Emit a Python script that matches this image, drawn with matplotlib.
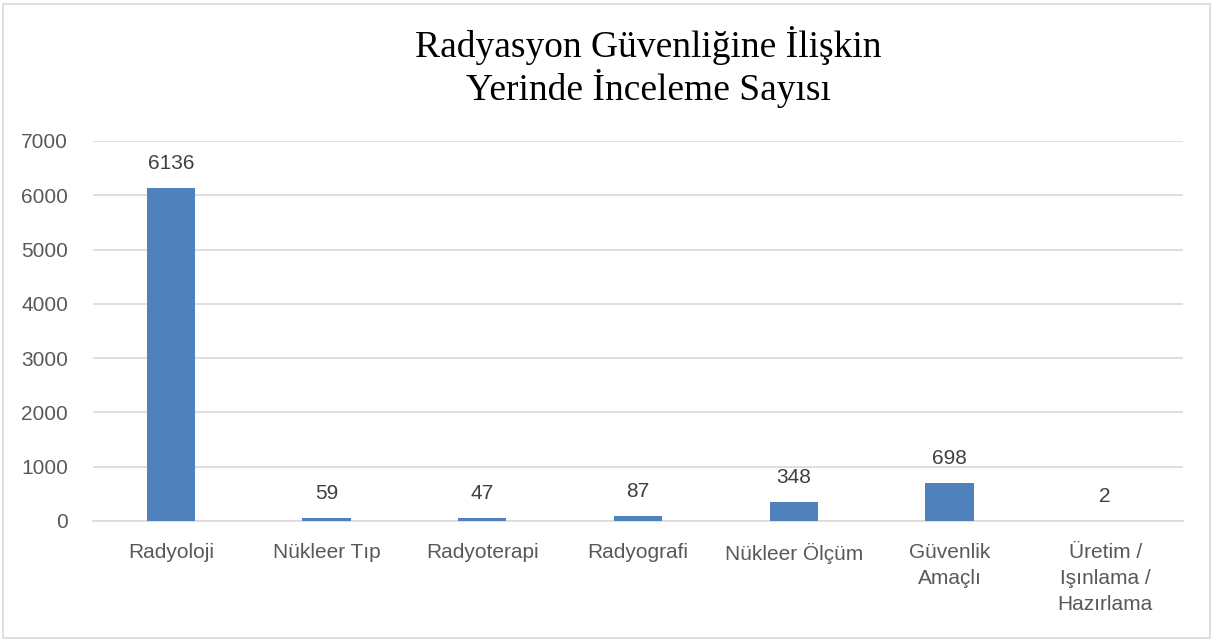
import matplotlib.pyplot as plt
from matplotlib.patches import Rectangle

categories = ["Radyoloji", "Nükleer Tıp", "Radyoterapi", "Radyografi",
              "Nükleer Ölçüm", "Güvenlik\nAmaçlı", "Üretim /\nIşınlama /\nHazırlama"]
values = [6136, 59, 47, 87, 348, 698, 2]
yticks = [0, 1000, 2000, 3000, 4000, 5000, 6000, 7000]

bar_color = "#4F81BD"
text_color = "#595959"
grid_color = "#D9D9D9"

fig = plt.figure(figsize=(12.16, 6.41), dpi=100)
ax = fig.add_axes([93 / 1216, 1 - 521 / 641, 1090 / 1216, 380 / 641])

x = list(range(len(categories)))
bars = ax.bar(x, values, width=0.31, color=bar_color, zorder=3)

for b, v in zip(bars, values):
    ax.annotate(str(v), (b.get_x() + b.get_width() / 2, v), xytext=(0, 11),
                textcoords="offset points", ha="center", va="bottom",
                fontsize=15, color="#404040", family="Liberation Sans")

ax.set_xlim(-0.5, len(categories) - 0.5)
ax.set_ylim(0, 7000)
ax.set_yticks(yticks)
ax.set_xticks(x)
ax.set_xticklabels(categories, fontsize=15, color=text_color,
                   family="Liberation Sans", linespacing=1.45)
ax.tick_params(axis="y", labelsize=15, labelcolor=text_color, length=0, pad=18)
ax.tick_params(axis="x", length=0, pad=16)
for lbl in ax.get_yticklabels():
    lbl.set_family("Liberation Sans")

ax.grid(axis="y", color=grid_color, linewidth=1.2, zorder=0)
for s in ["top", "right", "left"]:
    ax.spines[s].set_visible(False)
ax.spines["bottom"].set_color(grid_color)
ax.spines["bottom"].set_linewidth(1.2)

fig.text(0.533, 1 - 67 / 641, "Radyasyon Güvenliğine İlişkin\nYerinde İnceleme Sayısı",
         ha="center", va="center", fontsize=27, family="Liberation Serif",
         color="black", linespacing=1.15)

fig.patches.append(Rectangle((3 / 1216, 3 / 641), 1207 / 1216, 634 / 641,
                             transform=fig.transFigure, fill=False,
                             edgecolor="#D9D9D9", linewidth=1.2))

fig.savefig("out.png", dpi=100)
